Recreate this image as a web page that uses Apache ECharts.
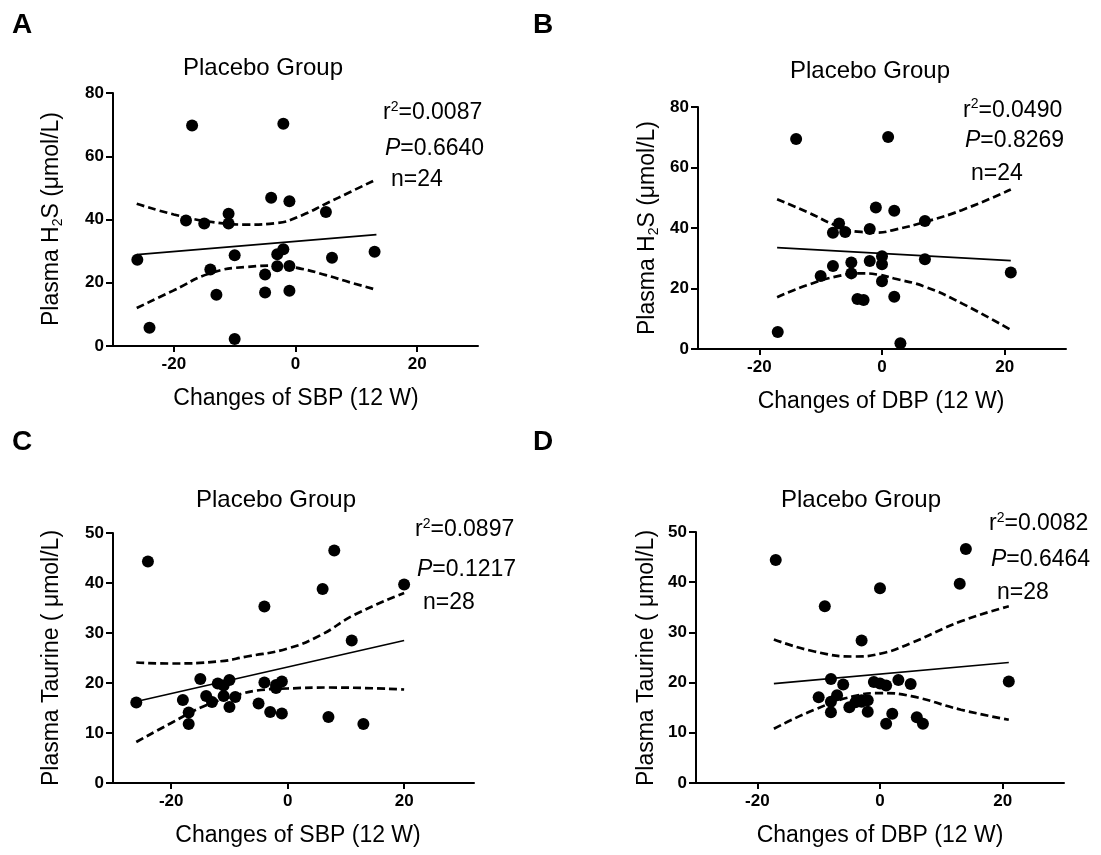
<!DOCTYPE html>
<html><head><meta charset="utf-8">
<script src="https://cdn.jsdelivr.net/npm/echarts@6/dist/echarts.min.js"></script>
<style>html,body{margin:0;padding:0;background:#fff}#c{width:1101px;height:855px}</style>
</head><body><div id="c"></div>
<script>
const FONT = '"Liberation Sans", Arial, Helvetica, sans-serif';

// ---- Panel A: SBP change vs plasma H2S ----
const sbpA = [-26,-24,-17,-18,-15,-14,-13,-11,-11,-10,-10,-5,-5,-4,-3,-3,-2,-2,-1,-1,-1,5,6,13];
const h2sA = [27.3,5.8,69.7,39.7,38.7,24.2,16.2,41.8,38.7,28.7,2.2,22.6,16.9,46.9,29.0,25.2,70.3,30.6,45.8,25.3,17.5,42.4,27.9,29.8];
const fitA = [[-26.1,28.9],[13.3,35.2]];
const ciUpA = [[-26.1,45.0],[-20,41.6],[-14,39.3],[-8,38.4],[-3,38.9],[1,41.3],[5,45.0],[9,48.7],[13.3,52.7]];
const ciLoA = [[-26.1,12.0],[-20,17.6],[-14,23.0],[-8,25.0],[-3,25.4],[1,24.4],[5,22.4],[9,20.1],[13.3,17.8]];

// ---- Panel B: DBP change vs plasma H2S ----
const dbpB = [-17,-14,-10,-8,-8,-7,-6,-5,-5,-4,-3,-2,-2,-1,0,0,0,1,2,2,3,7,7,21];
const h2sB = [5.6,69.4,24.1,27.4,38.4,41.5,38.7,28.6,25.0,16.5,16.2,29.1,39.7,46.8,30.7,28.0,22.4,70.1,45.7,17.3,1.9,42.3,29.7,25.3];
const fitB = [[-17.1,33.5],[21,29.2]];
const ciUpB = [[-17.1,49.5],[-12.2,45.3],[-7.2,40.6],[-3.4,38.7],[-0.7,38.5],[2,39.4],[7,42.0],[13,45.9],[21,52.7]];
const ciLoB = [[-17.1,17.1],[-12.2,21.1],[-7.2,24.1],[-3.4,25.0],[-0.7,24.6],[2,23.3],[7,20.6],[13,15.1],[21,6.3]];

// ---- Panel C: SBP change vs plasma taurine ----
const sbpC = [-26,-24,-18,-17,-17,-15,-14,-13,-12,-11,-10,-11,-10,-9,-5,-4,-4,-3,-2,-1,-1,-2,6,7,8,11,13,20];
const taurineC = [16.1,44.3,16.6,14.1,11.8,20.8,17.4,16.2,19.9,19.5,20.6,17.4,15.2,17.2,15.9,20.1,35.3,14.2,19.6,20.3,13.9,19.0,38.8,13.2,46.5,28.5,11.8,39.7];
const fitC = [[-26,16.3],[20,28.5]];
const ciUpC = [[-26,24.1],[-20,23.9],[-12,24.3],[-7,25.3],[0,26.9],[5.7,29.6],[11.4,33.6],[20,38.0]];
const ciLoC = [[-26,8.2],[-20,12.0],[-14.3,15.4],[-8.6,17.6],[-4.6,18.6],[0,18.9],[6.9,19.1],[20,18.7]];

// ---- Panel D: DBP change vs plasma taurine ----
const dbpD = [-17,-10,-9,-8,-8,-8,-7,-6,-5,-4,-3,-2,-2,-3,-1,0,1,0,1,2,3,5,6,7,13,14,21,-3];
const taurineD = [44.4,17.1,35.2,20.7,16.2,14.1,17.5,19.6,15.1,16.1,16.5,16.5,14.2,28.4,20.1,19.8,19.4,38.8,11.8,13.8,20.5,19.7,13.1,11.8,39.7,46.6,20.2,16.2];
const fitD = [[-17.3,19.8],[21,24.0]];
const ciUpD = [[-17.3,28.6],[-10.7,26.2],[-4.2,25.2],[0.2,25.8],[5.1,27.9],[13.2,32.2],[21,35.2]];
const ciLoD = [[-17.3,10.8],[-10.7,14.6],[-4.2,17.3],[0.2,17.9],[5.1,17.3],[13.2,14.6],[21,12.6]];

// ---- ticks & texts ----
const xTicks = [-20, 0, 20];
const statsA = ['0.0087','0.6640','24'];
const statsB = ['0.0490','0.8269','24'];
const statsC = ['0.0897','0.1217','28'];
const statsD = ['0.0082','0.6464','28'];
const panelTitle = 'Placebo Group';

function pairs(xs, ys){ return xs.map((x,i)=>[x, ys[i]]); }

const grids = [
  {left:113, top:93, width:365, height:253},
  {left:698, top:107, width:368, height:242},
  {left:113, top:533, width:361, height:250},
  {left:696, top:532, width:368, height:251}
];

function xAx(i, max){
  return {gridIndex:i, type:'value', min:-30, max:max, position:'bottom',
    axisLine:{show:true, onZero:false, lineStyle:{color:'#000', width:2}},
    axisTick:{show:true, length:6, customValues:xTicks, lineStyle:{color:'#000', width:2}},
    axisLabel:{customValues:xTicks, color:'#000', fontWeight:'bold', fontSize:17, fontFamily:FONT, margin:10},
    splitLine:{show:false}};
}
function yAx(i, max, interval){
  return {gridIndex:i, type:'value', min:0, max:max, interval:interval,
    axisLine:{show:true, onZero:false, lineStyle:{color:'#000', width:2}},
    axisTick:{show:true, length:7, lineStyle:{color:'#000', width:2}},
    axisLabel:{color:'#000', fontWeight:'bold', fontSize:17, fontFamily:FONT, margin:9},
    splitLine:{show:false}};
}

function panelSeries(i, pts, fit, up, lo){
  return [
    {type:'line', xAxisIndex:i, yAxisIndex:i, data:up, smooth:true, symbol:'none', silent:true,
      lineStyle:{color:'#000', width:2.7, type:[8,4]}},
    {type:'line', xAxisIndex:i, yAxisIndex:i, data:lo, smooth:true, symbol:'none', silent:true,
      lineStyle:{color:'#000', width:2.7, type:[8,4]}},
    {type:'line', xAxisIndex:i, yAxisIndex:i, data:fit, symbol:'none', silent:true,
      lineStyle:{color:'#000', width:1.7}},
    {type:'scatter', xAxisIndex:i, yAxisIndex:i, data:pts, symbol:'circle', symbolSize:12,
      itemStyle:{color:'#000', opacity:1}, z:5}
  ];
}

const richBase = {
  t:{fontSize:23, fontFamily:FONT, color:'#000', lineHeight:26},
  s:{fontSize:14, fontFamily:FONT, color:'#000', lineHeight:14, verticalAlign:'top'},
  b:{fontSize:14, fontFamily:FONT, color:'#000', lineHeight:14, verticalAlign:'bottom'},
  i:{fontSize:23, fontFamily:FONT, color:'#000', lineHeight:26, fontStyle:'italic'}
};

function txt(x, y, text, opt){
  opt = opt || {};
  const align = opt.align || 'left';
  return {type:'text', x:x, y:y, rotation:opt.rot || 0, silent:true,
    style:{text:text, rich:richBase, fill:'#000',
      fontSize:opt.size || 23, fontFamily:FONT, fontWeight:opt.weight || 'normal',
      align:align, textAlign:align, verticalAlign:'middle', textVerticalAlign:'middle'}};
}

function statTexts(x0, ys, st){
  return [
    txt(x0, ys[0], '{t|r}{s|2}{t|=' + st[0] + '}'),
    txt(x0 + 2, ys[1], '{i|P}{t|=' + st[1] + '}'),
    txt(x0 + 8, ys[2], '{t|n=' + st[2] + '}')
  ];
}

const graphics = [
  txt(12, 25, 'A', {size:28, weight:'bold'}),
  txt(533, 25, 'B', {size:28, weight:'bold'}),
  txt(12, 442, 'C', {size:28, weight:'bold'}),
  txt(533, 442, 'D', {size:28, weight:'bold'}),
  txt(263, 68, panelTitle, {size:24, align:'center'}),
  txt(870, 71, panelTitle, {size:24, align:'center'}),
  txt(276, 500, panelTitle, {size:24, align:'center'}),
  txt(861, 500, panelTitle, {size:24, align:'center'}),
  ...statTexts(383, [113, 149, 179.5], statsA),
  ...statTexts(963, [110.5, 140.5, 174], statsB),
  ...statTexts(415, [530, 570, 602.5], statsC),
  ...statTexts(989, [524, 560, 592.5], statsD),
  txt(52, 219, '{t|Plasma H}{b|2}{t|S (μmol/L)}', {align:'center', rot:Math.PI/2}),
  txt(648, 228, '{t|Plasma H}{b|2}{t|S (μmol/L)}', {align:'center', rot:Math.PI/2}),
  txt(52, 658, '{t|Plasma Taurine ( μmol/L)}', {align:'center', rot:Math.PI/2}),
  txt(647, 658, '{t|Plasma Taurine ( μmol/L)}', {align:'center', rot:Math.PI/2}),
  txt(296, 399, '{t|Changes of SBP (12 W)}', {align:'center'}),
  txt(881, 402, '{t|Changes of DBP (12 W)}', {align:'center'}),
  txt(298, 836, '{t|Changes of SBP (12 W)}', {align:'center'}),
  txt(880, 836, '{t|Changes of DBP (12 W)}', {align:'center'})
];

const chart = echarts.init(document.getElementById('c'), null, {renderer:'canvas'});
chart.setOption({
  animation:false,
  backgroundColor:'#fff',
  textStyle:{fontFamily:FONT},
  grid:grids,
  xAxis:[xAx(0,30), xAx(1,30), xAx(2,32), xAx(3,30)],
  yAxis:[yAx(0,80,20), yAx(1,80,20), yAx(2,50,10), yAx(3,50,10)],
  series:[
    ...panelSeries(0, pairs(sbpA, h2sA), fitA, ciUpA, ciLoA),
    ...panelSeries(1, pairs(dbpB, h2sB), fitB, ciUpB, ciLoB),
    ...panelSeries(2, pairs(sbpC, taurineC), fitC, ciUpC, ciLoC),
    ...panelSeries(3, pairs(dbpD, taurineD), fitD, ciUpD, ciLoD)
  ],
  graphic:{elements:graphics}
});
</script>
</body></html>
